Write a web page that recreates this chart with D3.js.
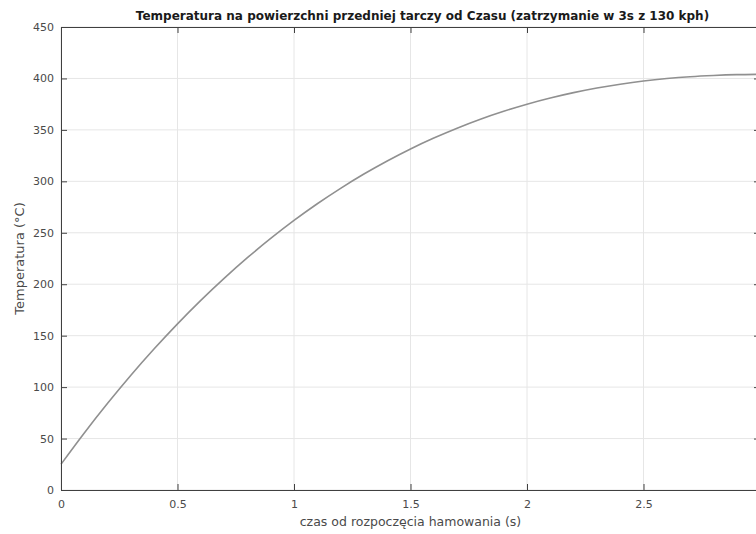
<!DOCTYPE html>
<html>
<head>
<meta charset="utf-8">
<script src="https://cdn.jsdelivr.net/npm/d3@7"></script>
<style>
	body { margin: 0; background: #fff; }
	svg { display: block; font-family: "DejaVu Sans", sans-serif; }
</style>
</head>
<body>
<div id="chart"></div>
<script>
// time (s) and front disc surface temperature (°C)
var czas = [0, 0.1, 0.2, 0.3, 0.4, 0.5, 0.6, 0.7, 0.8, 0.9, 1.0,
	1.1, 1.2, 1.3, 1.4, 1.5, 1.6, 1.7, 1.8, 1.9, 2.0,
	2.1, 2.2, 2.3, 2.4, 2.5, 2.6, 2.7, 2.8, 2.9, 3.0];
var temperatura = [25, 55.4, 84.2, 111.5, 137.2, 161.5, 184.3, 205.7, 225.8, 244.5, 262.0,
	278.2, 293.2, 307.1, 319.8, 331.5, 342.1, 351.7, 360.4, 368.1, 375.0,
	381.0, 386.2, 390.7, 394.4, 397.5, 399.9, 401.7, 402.9, 403.7, 404.0];
var xTicks = [0, 0.5, 1, 1.5, 2, 2.5, 3];
var yTicks = [0, 50, 100, 150, 200, 250, 300, 350, 400, 450];

var title = 'Temperatura na powierzchni przedniej tarczy od Czasu (zatrzymanie w 3s z 130 kph)';
var xTitle = 'czas od rozpoczęcia hamowania (s)';
var yTitle = 'Temperatura (°C)';

var w = 756;
var h = 534;
var padL = 61, padR = 760, padT = 27, padB = 490;
var tick = 6;
var axisColor = '#404040';

var svg = d3.select('#chart')
	.append('svg')
	.attr('width', w)
	.attr('height', h);

var xScale = d3.scaleLinear().domain([0, 3]).range([padL, padR]);
var yScale = d3.scaleLinear().domain([0, 450]).range([padB, padT]);

// grid
svg.append('g').selectAll('line')
	.data(xTicks)
	.enter()
	.append('line')
	.attr('x1', function (d) {return xScale(d);})
	.attr('x2', function (d) {return xScale(d);})
	.attr('y1', padT)
	.attr('y2', padB)
	.attr('stroke', '#e6e6e6');
svg.append('g').selectAll('line')
	.data(yTicks)
	.enter()
	.append('line')
	.attr('x1', padL)
	.attr('x2', padR)
	.attr('y1', function (d) {return yScale(d);})
	.attr('y2', function (d) {return yScale(d);})
	.attr('stroke', '#e6e6e6');

// curve
var line = d3.line()
	.x(function (d, i) {return xScale(czas[i]);})
	.y(function (d) {return yScale(d);})
	.curve(d3.curveMonotoneX);
svg.append('path')
	.datum(temperatura)
	.attr('d', line)
	.attr('fill', 'none')
	.attr('stroke', '#909090')
	.attr('stroke-width', 1.6);

// axes, ticks pointing inward like MATLAB
function styleAxis(g) {
	g.select('.domain').attr('stroke', axisColor);
	g.selectAll('.tick line').attr('stroke', axisColor);
	g.selectAll('.tick text')
		.attr('fill', '#4a4a4a')
		.attr('font-size', '11px')
		.attr('font-family', '"DejaVu Sans", sans-serif');
}
var xAxis = d3.axisBottom(xScale).tickValues(xTicks).tickSizeInner(-tick).tickSizeOuter(0)
	.tickPadding(10).tickFormat(d3.format('~g'));
var yAxis = d3.axisLeft(yScale).tickValues(yTicks).tickSizeInner(-tick).tickSizeOuter(0)
	.tickPadding(7).tickFormat(d3.format('~g'));

svg.append('g').attr('transform', 'translate(0,' + padB + ')').call(xAxis).call(styleAxis);
svg.append('g').attr('transform', 'translate(' + padL + ',0)').call(yAxis).call(styleAxis);
svg.append('g').attr('transform', 'translate(0,' + padT + ')')
	.call(d3.axisTop(xScale).tickValues(xTicks).tickSizeInner(-tick).tickSizeOuter(0).tickFormat(''))
	.call(styleAxis);
svg.append('g').attr('transform', 'translate(' + padR + ',0)')
	.call(d3.axisRight(yScale).tickValues(yTicks).tickSizeInner(-tick).tickSizeOuter(0).tickFormat(''))
	.call(styleAxis);

// titles
svg.append('text')
	.text(title)
	.attr('x', (padL + padR) / 2 + 12)
	.attr('y', 20)
	.attr('text-anchor', 'middle')
	.attr('font-size', '12px')
	.attr('font-weight', 'bold')
	.attr('fill', '#1a1a1a');
svg.append('text')
	.text(xTitle)
	.attr('x', (padL + padR) / 2)
	.attr('y', 526)
	.attr('text-anchor', 'middle')
	.attr('font-size', '12.5px')
	.attr('fill', '#4a4a4a');
svg.append('text')
	.text(yTitle)
	.attr('transform', 'translate(24,' + (padT + padB) / 2 + ') rotate(-90)')
	.attr('text-anchor', 'middle')
	.attr('font-size', '13px')
	.attr('fill', '#4a4a4a');
</script>
</body>
</html>
